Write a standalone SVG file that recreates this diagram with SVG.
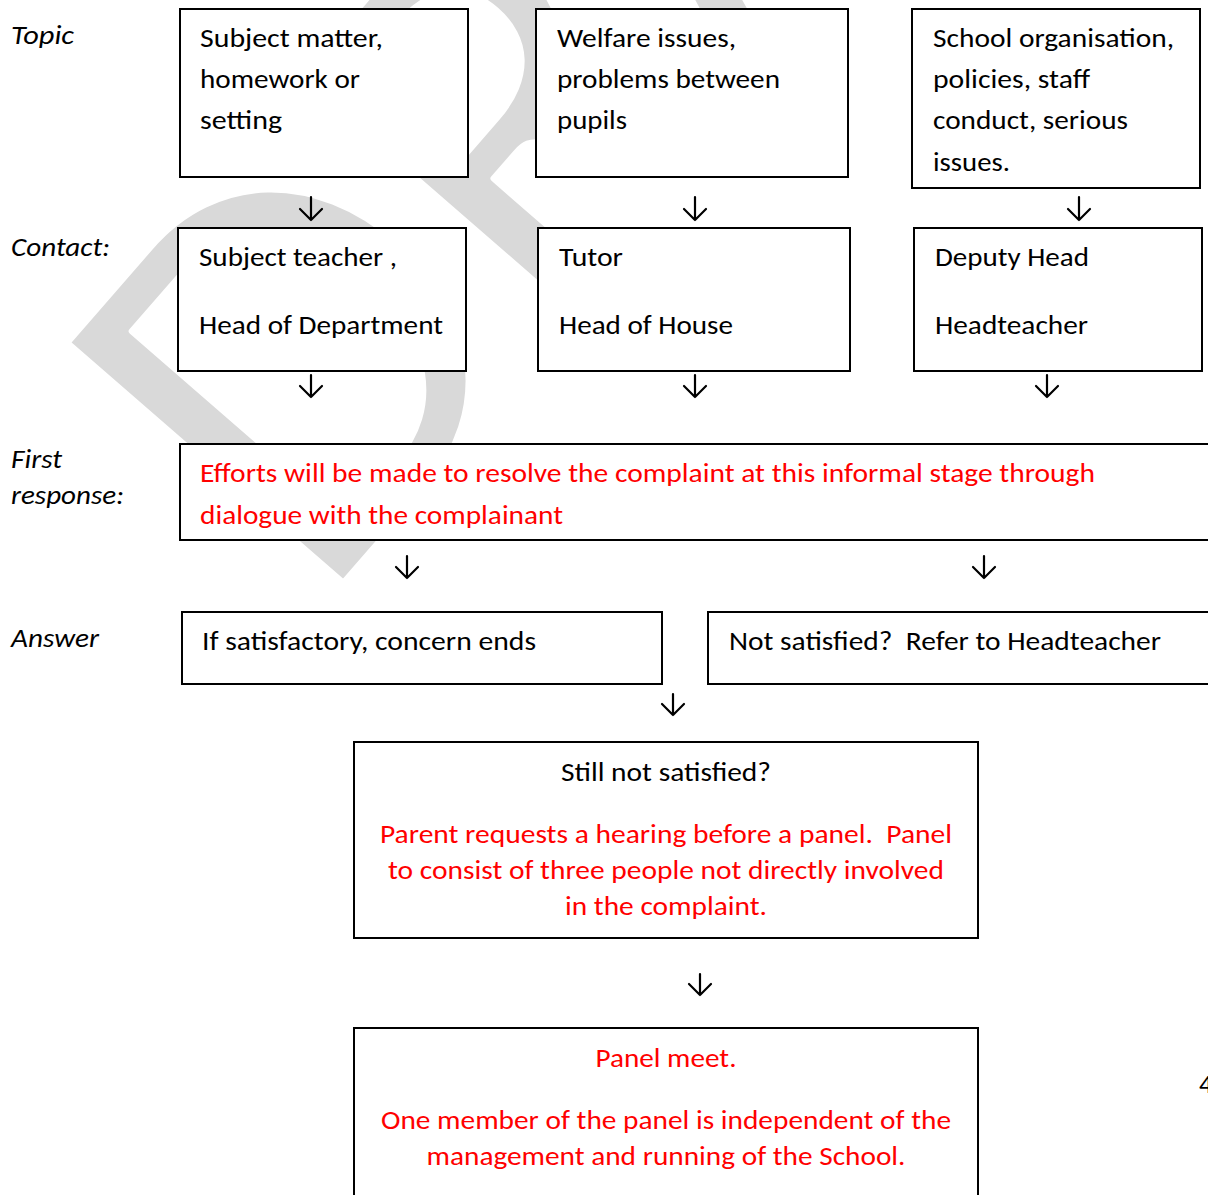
<svg xmlns="http://www.w3.org/2000/svg" width="1208" height="1195" viewBox="0 0 1208 1195">
<defs>
<style>
.bg{fill:#ffffff}
.wm{font-family:Carlito,"Liberation Sans",Arial,sans-serif;font-size:570px;fill:#d9d9d9;stroke:#ffffff;stroke-width:6;stroke-linejoin:round}
.box{fill:#ffffff;stroke:#000000;stroke-width:2}
.t{font-family:Carlito,"Liberation Sans",Arial,sans-serif;font-size:27px;fill:#000000}
.r{fill:#ff0000}
.lab{font-family:Carlito,"Liberation Sans",Arial,sans-serif;font-size:26px;font-style:italic;fill:#000000}
.c{text-anchor:middle}
.arr{fill:none;stroke:#000000;stroke-width:2.2;stroke-linecap:round;stroke-linejoin:round}
</style>
</defs>
<rect class="bg" x="0" y="0" width="1208" height="1195"/>
<g id="watermark">
<text class="wm" transform="translate(318,612) rotate(-49)" x="0" y="0">DRAFT</text>
</g>
<g id="row-labels">
<text class="lab" x="11" y="44" textLength="63" lengthAdjust="spacingAndGlyphs">Topic</text>
<text class="lab" x="11" y="256" textLength="99" lengthAdjust="spacingAndGlyphs">Contact:</text>
<text class="lab" x="11" y="468" textLength="51" lengthAdjust="spacingAndGlyphs">First</text>
<text class="lab" x="11" y="504" textLength="113" lengthAdjust="spacingAndGlyphs">response:</text>
<text class="lab" x="11" y="647" textLength="88" lengthAdjust="spacingAndGlyphs">Answer</text>
</g>
<g id="topic-subject">
<rect class="box" x="180" y="9" width="288" height="168"/>
<text class="t" x="200" y="47" textLength="183" lengthAdjust="spacingAndGlyphs">Subject matter,</text>
<text class="t" x="200" y="88" textLength="160" lengthAdjust="spacingAndGlyphs">homework or</text>
<text class="t" x="200" y="129" textLength="82" lengthAdjust="spacingAndGlyphs">setting</text>
</g>
<g id="topic-welfare">
<rect class="box" x="536" y="9" width="312" height="168"/>
<text class="t" x="557" y="47" textLength="179" lengthAdjust="spacingAndGlyphs">Welfare issues,</text>
<text class="t" x="557" y="88" textLength="223" lengthAdjust="spacingAndGlyphs">problems between</text>
<text class="t" x="557" y="129" textLength="70" lengthAdjust="spacingAndGlyphs">pupils</text>
</g>
<g id="topic-school">
<rect class="box" x="912" y="9" width="288" height="179"/>
<text class="t" x="933" y="47" textLength="241" lengthAdjust="spacingAndGlyphs">School organisation,</text>
<text class="t" x="933" y="88" textLength="157" lengthAdjust="spacingAndGlyphs">policies, staff</text>
<text class="t" x="933" y="129" textLength="195" lengthAdjust="spacingAndGlyphs">conduct, serious</text>
<text class="t" x="933" y="171" textLength="77" lengthAdjust="spacingAndGlyphs">issues.</text>
</g>
<g id="contact-teacher">
<rect class="box" x="178" y="228" width="288" height="143"/>
<text class="t" x="199" y="266" textLength="198" lengthAdjust="spacingAndGlyphs">Subject teacher ,</text>
<text class="t" x="199" y="334" textLength="244" lengthAdjust="spacingAndGlyphs">Head of Department</text>
</g>
<g id="contact-tutor">
<rect class="box" x="538" y="228" width="312" height="143"/>
<text class="t" x="559" y="266" textLength="64" lengthAdjust="spacingAndGlyphs">Tutor</text>
<text class="t" x="559" y="334" textLength="174" lengthAdjust="spacingAndGlyphs">Head of House</text>
</g>
<g id="contact-deputy">
<rect class="box" x="914" y="228" width="288" height="143"/>
<text class="t" x="935" y="266" textLength="154" lengthAdjust="spacingAndGlyphs">Deputy Head</text>
<text class="t" x="935" y="334" textLength="153" lengthAdjust="spacingAndGlyphs">Headteacher</text>
</g>
<g id="first-response">
<rect class="box" x="180" y="444" width="1040" height="96"/>
<text class="t r" x="200" y="482" textLength="895" lengthAdjust="spacingAndGlyphs">Efforts will be made to resolve the complaint at this informal stage through</text>
<text class="t r" x="200" y="524" textLength="363" lengthAdjust="spacingAndGlyphs">dialogue with the complainant</text>
</g>
<g id="answer-satisfied">
<rect class="box" x="182" y="612" width="480" height="72"/>
<text class="t" x="202" y="650" textLength="334" lengthAdjust="spacingAndGlyphs">If satisfactory, concern ends</text>
</g>
<g id="answer-not-satisfied">
<rect class="box" x="708" y="612" width="520" height="72"/>
<text class="t" x="729" y="650" textLength="432" lengthAdjust="spacingAndGlyphs" xml:space="preserve">Not satisfied?  Refer to Headteacher</text>
</g>
<g id="still-not-satisfied">
<rect class="box" x="354" y="742" width="624" height="196"/>
<text class="t c" x="666" y="781" textLength="210" lengthAdjust="spacingAndGlyphs">Still not satisfied?</text>
<text class="t r c" x="666" y="843" textLength="572" lengthAdjust="spacingAndGlyphs" xml:space="preserve">Parent requests a hearing before a panel.  Panel</text>
<text class="t r c" x="666" y="879" textLength="556" lengthAdjust="spacingAndGlyphs">to consist of three people not directly involved</text>
<text class="t r c" x="666" y="915" textLength="202" lengthAdjust="spacingAndGlyphs">in the complaint.</text>
</g>
<g id="panel-meet">
<rect class="box" x="354" y="1028" width="624" height="190"/>
<text class="t r c" x="666" y="1067" textLength="141" lengthAdjust="spacingAndGlyphs">Panel meet.</text>
<text class="t r c" x="666" y="1129" textLength="570" lengthAdjust="spacingAndGlyphs">One member of the panel is independent of the</text>
<text class="t r c" x="666" y="1165" textLength="479" lengthAdjust="spacingAndGlyphs">management and running of the School.</text>
</g>
<g id="connectors">
<path class="arr" d="M311,197V220M300,209L311,220L322,209"/>
<path class="arr" d="M695,197V220M684,209L695,220L706,209"/>
<path class="arr" d="M1079,197V220M1068,209L1079,220L1090,209"/>
<path class="arr" d="M311,375V397M300,386L311,397L322,386"/>
<path class="arr" d="M695,375V397M684,386L695,397L706,386"/>
<path class="arr" d="M1047,375V397M1036,386L1047,397L1058,386"/>
<path class="arr" d="M407,556V578M396,567L407,578L418,567"/>
<path class="arr" d="M984,556V578M973,567L984,578L995,567"/>
<path class="arr" d="M673,694V715M662,704L673,715L684,704"/>
<path class="arr" d="M700,974V995M689,984L700,995L711,984"/>
</g>
<g id="page-number">
<text class="t" x="1199" y="1093">4</text>
</g>
</svg>
